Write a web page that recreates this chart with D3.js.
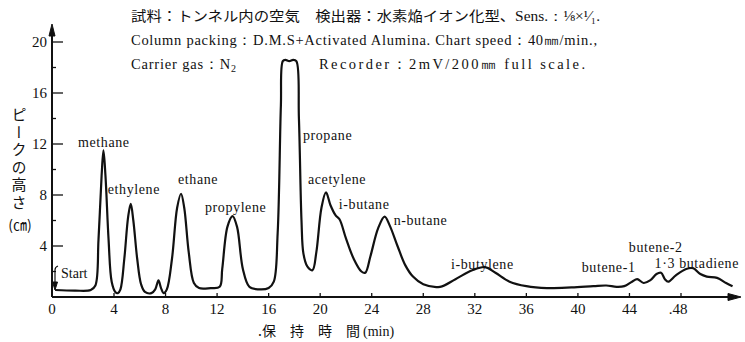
<!DOCTYPE html>
<html>
<head>
<meta charset="utf-8">
<script src="https://cdn.jsdelivr.net/npm/d3@7/dist/d3.min.js"></script>
<style>
  html, body { margin: 0; padding: 0; background: #fff; }
  svg { display: block; }
  .lat { font-family: "Liberation Serif", "DejaVu Serif", serif; fill: #111; }
  .jp { font-family: "Noto Sans CJK JP", "Noto Sans CJK SC", sans-serif; fill: #111; }
</style>
</head>
<body>
<svg id="chart" width="745" height="342"></svg>
<script>
// Retention time (min) and peak height (cm) along the recorder trace
const traceTime = [
  0.2, 1.5, 2.5, 2.8,
  3.0, 3.2, 3.32, 3.45, 3.65, 3.85, 4.1, 4.3,
  4.5, 4.8, 5.1, 5.3, 5.5, 5.8, 6.1, 6.4, 6.9, 7.2, 7.45, 7.65, 7.85,
  8.1, 8.5, 8.9, 9.2, 9.45, 9.8, 10.2, 10.6, 11.5, 12.2,
  12.4, 12.8, 13.2, 13.55, 14.0, 14.5, 15.2, 16.0, 16.4,
  16.7, 16.95, 17.1, 17.3, 17.6, 17.9, 18.15, 18.35, 18.55, 18.7, 19.0, 19.4,
  19.7, 20.1, 20.45, 20.8, 21.2, 21.5, 22.0, 22.6, 23.2, 23.5,
  23.9, 24.5, 25.0, 25.4, 26.0, 26.6, 27.2, 28.0, 29.3,
  30.5, 31.8, 32.8, 33.6, 34.7, 36.0, 37.6, 39.5, 41.2, 42.2, 43.0, 43.6,
  44.2, 44.6, 45.1, 45.6, 46.1, 46.45, 46.75, 47.0, 47.6, 48.4, 48.95, 49.5, 50.0, 50.8, 51.5, 52.0
];
const traceHeight = [
  0.55, 0.5, 0.55, 0.9,
  4.5, 9.5, 11.5, 9.5, 4.5, 1.2, 0.4, 0.3,
  0.6, 3.0, 6.3, 7.3, 6.0, 3.0, 1.0, 0.4, 0.3, 0.6, 1.3, 0.7, 0.3,
  0.6, 3.0, 7.0, 8.1, 7.0, 3.5, 1.1, 0.7, 0.7, 0.8,
  2.2, 5.5, 6.35, 5.5, 2.2, 0.8, 0.6, 0.7, 1.2,
  5.0, 15.0, 18.5, 18.6, 18.5, 18.6, 18.5, 14.0, 6.0, 3.4, 2.4, 2.1,
  3.5, 7.0, 8.2, 7.2, 6.4, 6.1, 4.6, 3.0, 2.0, 1.9,
  3.2, 5.4, 6.3, 5.6, 4.0, 2.5, 1.6, 1.0, 0.8,
  1.4, 2.1, 2.35, 1.9, 1.2, 0.85, 0.7, 0.75, 0.85, 0.9, 0.8, 0.85,
  1.2, 1.4, 1.1, 1.3, 1.8, 1.9, 1.4, 1.2, 1.7, 2.2, 2.25, 1.8, 1.6, 1.5, 1.1, 0.85
];

// Component names and where each name sits (time, height)
const peakNames = ["methane", "ethylene", "ethane", "propylene", "propane", "acetylene",
  "i-butane", "n-butane", "i-butylene", "butene-1", "butene-2", "1·3 butadiene"];
const nameTime = [1.68, 3.6, 8.97, 11.06, 18.66, 19.05, 21.45, 25.7, 30.15, 40.3, 43.95, 45.95];
const nameHeight = [11.75, 8.1, 8.85, 6.65, 12.3, 8.9, 6.9, 5.65, 2.2, 1.95, 3.5, 2.25];

// Axis ticks
const xTicks = [0, 4, 8, 12, 16, 20, 24, 28, 32, 36, 40, 44, 48];
const xTickLabels = ["0", "4", "8", "12", "16", "20", "24", "28", "32", "36", "40", "44", ".48"];
const yMajor = [4, 8, 12, 16, 20];
const yMinor = [2, 6, 10, 14, 18];

// Run conditions printed above the trace
const sampleNote = "試料：トンネル内の空気　検出器：水素焔イオン化型、";
const sensNote = "Sens.：⅛×¹⁄₁.";
const columnNote = "Column packing：D.M.S+Activated Alumina. Chart speed：40㎜/min.,";
const carrierNote = "Carrier gas：N";
const recorderNote = "Recorder：2mV/200㎜ full scale.";

const svg = d3.select("#chart");

// The chart paper is stretched a little over the first 4 minutes
const x = d3.scaleLinear().domain([0, 4, 48]).range([52, 114, 681]);
const y = d3.scaleLinear().domain([0, 20]).range([297, 42]);

const ink = "#111";

// Header
const hdr = svg.append("g");
hdr.append("text").attr("class", "lat").attr("x", 131).attr("y", 21)
  .attr("font-size", 14).attr("textLength", 469).attr("lengthAdjust", "spacingAndGlyphs")
  .call(t => {
    t.append("tspan").attr("class", "jp").attr("font-size", 14).text(sampleNote);
    t.append("tspan").text(sensNote);
  });
hdr.append("text").attr("class", "lat").attr("x", 131).attr("y", 45)
  .attr("font-size", 14.5).attr("textLength", 466).attr("lengthAdjust", "spacing")
  .text(columnNote);
hdr.append("text").attr("class", "lat").attr("x", 131).attr("y", 69)
  .attr("font-size", 14.5).attr("textLength", 105).attr("lengthAdjust", "spacing")
  .call(t => {
    t.append("tspan").text(carrierNote);
    t.append("tspan").attr("font-size", 10).attr("dy", 3).text("2");
  });
hdr.append("text").attr("class", "lat").attr("x", 319).attr("y", 69)
  .attr("font-size", 14.5).attr("textLength", 266).attr("lengthAdjust", "spacing")
  .text(recorderNote);

// Axes
const axisG = svg.append("g").attr("stroke", ink).attr("fill", "none");
axisG.append("line").attr("x1", x(0)).attr("x2", x(0)).attr("y1", y(0)).attr("y2", 30)
  .attr("stroke-width", 2);
axisG.append("path").attr("d", `M${x(0) - 3},36 L${x(0)},24 L${x(0) + 3},36 Z`).attr("fill", ink);
axisG.append("line").attr("x1", x(0)).attr("x2", 734).attr("y1", y(0)).attr("y2", y(0))
  .attr("stroke-width", 1.8);
axisG.append("path").attr("d", `M728,${y(0) - 3.5} L741,${y(0)} L728,${y(0) + 3.5} Z`).attr("fill", ink);

// y ticks (drawn inward)
yMajor.forEach(v => {
  axisG.append("line").attr("x1", x(0)).attr("x2", x(0) + 11).attr("y1", y(v)).attr("y2", y(v))
    .attr("stroke-width", 1.3);
});
yMinor.forEach(v => {
  axisG.append("line").attr("x1", x(0)).attr("x2", x(0) + 4).attr("y1", y(v)).attr("y2", y(v))
    .attr("stroke-width", 1.3);
});
svg.append("g").selectAll("text").data(yMajor).join("text")
  .attr("class", "lat").attr("font-size", 15).attr("text-anchor", "end")
  .attr("x", x(0) - 5).attr("y", d => y(d) + 5).text(d => d);

// x ticks (drawn upward)
xTicks.forEach(v => {
  axisG.append("line").attr("x1", x(v)).attr("x2", x(v)).attr("y1", y(0)).attr("y2", y(0) - 4)
    .attr("stroke-width", 1.3);
});
svg.append("g").selectAll("text").data(xTicks).join("text")
  .attr("class", "lat").attr("font-size", 15).attr("text-anchor", "middle")
  .attr("x", (d, i) => x(d) - (i === xTicks.length - 1 ? 3 : 0)).attr("y", 314)
  .text((d, i) => xTickLabels[i]);

// Axis titles
svg.append("text").attr("class", "jp").attr("font-size", 14)
  .attr("x", 258).attr("y", 336)
  .call(t => {
    t.append("tspan").text(".保　持　時　間 ");
    t.append("tspan").attr("class", "lat").attr("font-size", 14).text("(min)");
  });
svg.append("text").attr("class", "jp").attr("font-size", 15)
  .attr("x", 19).attr("y", 107)
  .style("writing-mode", "vertical-rl").style("letter-spacing", "2.5px")
  .text("ピークの高さ");
svg.append("text").attr("class", "jp").attr("font-size", 14).attr("text-anchor", "middle")
  .attr("x", 20).attr("y", 230).text("(㎝)");

// Start marker
svg.append("text").attr("class", "lat").attr("font-size", 14).attr("x", 61).attr("y", 278).text("Start");
axisG.append("path").attr("d", `M58,266 Q55,267 55,270 L55,284`).attr("stroke-width", 1.2);
axisG.append("path").attr("d", `M52.5,282 L55,290 L57.5,282 Z`).attr("fill", ink);

// Recorder trace
const pts = traceTime.map((t, i) => [t, traceHeight[i]]);
const line = d3.line().x(d => x(d[0])).y(d => y(d[1])).curve(d3.curveCatmullRom.alpha(0.5));
svg.append("path").datum(pts).attr("d", line)
  .attr("fill", "none").attr("stroke", ink).attr("stroke-width", 2.2)
  .attr("stroke-linejoin", "round");

// Component labels
svg.append("g").selectAll("text").data(peakNames).join("text")
  .attr("class", "lat").attr("font-size", 14).style("letter-spacing", "0.6px")
  .attr("x", (d, i) => x(nameTime[i])).attr("y", (d, i) => y(nameHeight[i]))
  .text(d => d);
</script>
</body>
</html>
